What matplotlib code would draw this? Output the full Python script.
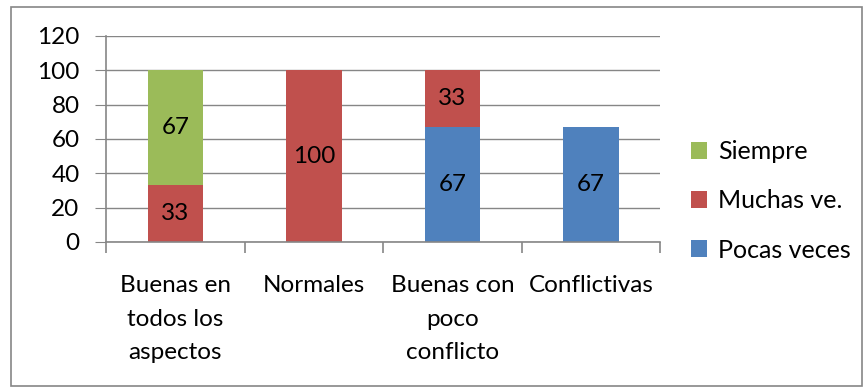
import numpy as np
import matplotlib.pyplot as plt
from matplotlib.patches import Rectangle

plt.rcParams['font.family'] = ['Lato', 'DejaVu Sans']

categories = ["Buenas en\ntodos los\naspectos", "Normales", "Buenas con\npoco\nconflicto", "Conflictivas"]
pocas_veces = [0, 0, 67, 67]
muchas_ve = [33, 100, 33, 0]
siempre = [67, 0, 0, 0]

c_blue = "#4F81BD"
c_red = "#C0504D"
c_green = "#9BBB59"
grid_col = "#868686"

fig = plt.figure(figsize=(8.66, 3.89), dpi=100)
ax = fig.add_axes([0.1224, 0.378, 0.64, 0.5295])

x = np.arange(len(categories))
w = 0.4
b1 = ax.bar(x, pocas_veces, w, color=c_blue, label="Pocas veces")
b2 = ax.bar(x, muchas_ve, w, bottom=pocas_veces, color=c_red, label="Muchas ve.")
bottom3 = np.array(pocas_veces) + np.array(muchas_ve)
b3 = ax.bar(x, siempre, w, bottom=bottom3, color=c_green, label="Siempre")

# value labels in the middle of each segment
for bars, vals in [(b1, pocas_veces), (b2, muchas_ve), (b3, siempre)]:
    for rect, v in zip(bars, vals):
        if v > 0:
            ax.text(rect.get_x() + rect.get_width() / 2, rect.get_y() + v / 2, str(v),
                    ha="center", va="center", fontsize=17.5, color="black")

ax.set_xlim(-0.5, 3.5)
ax.set_ylim(0, 120)
ax.set_yticks(range(0, 121, 20))
ax.yaxis.grid(True, color=grid_col, linewidth=1)
ax.set_axisbelow(True)

ax.set_xticks(x)
ax.set_xticklabels(categories, fontsize=17.5, linespacing=1.72, va="top")
ax.set_xticks(np.arange(-0.5, 4, 1), minor=True)
ax.tick_params(axis="x", which="major", length=0, pad=24)
ax.tick_params(axis="x", which="minor", length=8, color=grid_col, width=1.2)
ax.tick_params(axis="y", length=8, color=grid_col, labelsize=17.5, pad=11)

for s in ["top", "right"]:
    ax.spines[s].set_visible(False)
for s in ["left", "bottom"]:
    ax.spines[s].set_color(grid_col)
    ax.spines[s].set_linewidth(1.2)

h, l = ax.get_legend_handles_labels()
ax.legend(h[::-1], l[::-1], loc="center left", bbox_to_anchor=(1.055, 0.2),
          frameon=False, fontsize=18, handlelength=0.65, handleheight=0.65,
          handletextpad=0.45, labelspacing=1.05, borderpad=0, borderaxespad=0)

fig.patches.append(Rectangle((0.013, 0.008), 0.982, 0.975, transform=fig.transFigure,
                             fill=False, edgecolor=grid_col, linewidth=1.2))

fig.savefig("out.png", dpi=100)
